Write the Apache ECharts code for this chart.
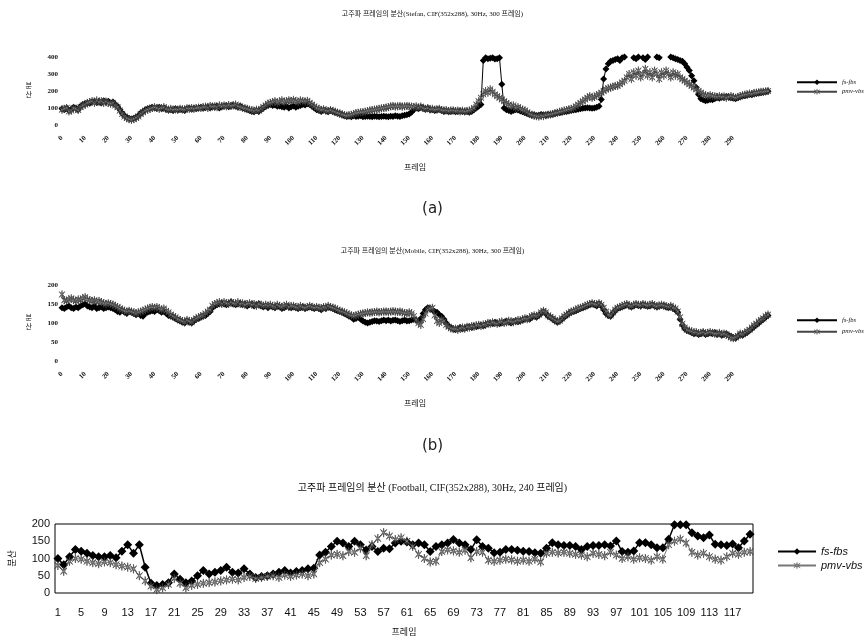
<!DOCTYPE html>
<html><head><meta charset="utf-8">
<script src="https://cdn.jsdelivr.net/npm/echarts@6/dist/echarts.min.js"></script>
<style>html,body{margin:0;padding:0;background:#fff}#c{width:865px;height:641px}</style>
</head><body><div id="c"></div>
<script>
// ---- data ----
const framesAB = Array.from({length: 306}, (_, i) => String(i));
const aFs = [95,90,100,85,92,105,98,90,110,120, 125,130,128,135,140,132,138,130,142,135, 140,130,135,120,110,90,70,55,45,38, 35,40,45,55,70,80,90,95,100,105, 100,98,105,95,100,92,88,90,85,95, 88,92,90,85,95,100,92,98,95,100, 105,98,102,108,100,110,105,112,100,108, 110,115,108,112,118,110,105,112,100,95, 92,85,80,78,85,80,90,100,110,115, 120,115,118,110,112,108,105,110,100,108, 112,105,110,115,120,118,125,120,110,100, 90,85,80,88,82,78,85,80,75,70, 65,60,55,50,52,48,55,50,52,55, 48,50,52,50,48,52,50,48,50,52, 50,48,52,50,55,52,50,55,58,60, 65,75,90,100,95,105,100,92,98,90, 90,85,88,92,85,80,82,78,80,82, 78,80,82,80,78,80,75,80,90,100, 110,120,380,395,390,392,395,388,390,395, 240,100,90,85,80,85,90,88,82,78, 72,68,62,58,60,55,58,62,60,58, 62,60,65,68,70,72,75,78,80,82, 85,88,90,92,95,98,100,102,100,98, 100,105,110,150,270,330,360,375,380,385, 390,380,395,400,410,420,405,395,390,400, 410,395,385,400,415,420,410,400,395,405, 410,420,415,400,395,390,385,380,375,360, 340,320,290,260,220,180,155,148,142,145, 150,148,155,160,158,165,162,168,165,160, 158,155,160,165,170,172,175,180,178,182, 185,188,190,192,195,198];
const aPmv = [90,95,100,80,85,100,95,88,105,115, 120,130,135,140,130,145,135,140,130,138, 130,125,130,115,105,85,65,50,40,35, 30,35,42,50,65,75,85,90,95,100, 105,100,95,100,105,95,90,95,90,92, 90,95,92,90,98,95,100,95,100,102, 100,105,108,100,112,108,110,105,115,110, 115,110,118,112,115,120,110,108,102,98, 95,90,88,82,90,85,95,105,115,125, 130,135,140,130,138,145,135,140,145,140, 148,140,135,145,140,138,142,130,120,110, 100,95,88,92,85,82,88,82,78,72, 68,62,58,55,58,60,65,70,72,75, 75,78,82,85,88,90,92,95,98,100, 102,105,110,112,108,110,112,108,110,112, 110,108,105,110,100,108,100,95,100,92, 95,90,92,95,88,85,88,82,85,86, 82,85,80,84,80,82,85,90,100,120, 140,160,180,200,190,210,195,180,170,160, 150,140,130,120,110,115,100,105,95,90, 85,75,65,60,55,52,50,55,52,58, 60,62,65,70,72,78,80,85,88,92, 95,100,110,120,130,140,150,160,170,160, 165,175,180,190,200,210,215,220,225,230, 230,240,250,260,280,300,270,310,290,320, 280,300,330,290,310,280,320,300,270,310, 290,320,300,280,310,290,300,280,270,260, 250,240,230,220,210,200,190,180,175,170, 175,170,168,165,170,165,168,160,165,170, 165,160,165,170,175,178,180,185,182,188, 190,192,195,195,198,200];
const bFs = [140,138,142,145,140,138,142,140,145,148, 150,145,142,140,145,138,140,142,138,140, 142,140,138,135,130,128,132,128,125,130, 128,125,122,125,120,118,125,128,130,132, 130,135,132,128,130,125,120,118,115,112, 108,105,102,100,105,102,100,105,110,112, 115,118,120,125,130,140,145,148,150,152, 150,148,152,155,150,148,150,152,148,150, 145,148,150,145,148,150,145,142,145,140, 145,142,140,145,142,138,140,145,142,140, 142,140,138,140,142,138,140,142,140,138, 140,138,135,140,138,142,140,138,135,132, 130,128,125,122,118,115,110,112,115,110, 105,102,100,102,104,106,105,104,106,108, 106,108,105,107,108,106,104,106,108,105, 106,108,110,108,105,112,125,135,140,138, 135,130,128,122,118,110,100,92,88,85, 82,85,88,84,86,88,90,88,92,90, 92,95,92,96,98,100,98,102,100,98, 100,102,105,102,100,104,106,103,105,108, 110,112,110,115,118,115,120,125,130,125, 118,115,110,105,102,105,110,115,120,125, 128,130,132,135,138,140,142,145,148,150, 148,145,150,145,135,125,120,118,125,132, 138,140,142,145,148,145,142,145,148,146, 145,148,146,144,145,148,145,142,144,146, 145,142,140,143,138,135,128,110,95,85, 80,78,75,72,74,70,72,75,70,72, 74,72,75,70,72,68,70,72,68,65, 62,60,65,70,68,72,75,80,85,90, 95,100,105,110,115,120];
const bPmv = [175,160,158,162,165,160,158,162,160,165, 168,162,160,158,160,155,158,155,152,150, 152,150,148,145,142,138,135,132,130,132, 130,128,125,128,130,132,135,138,140,142, 140,142,138,135,138,132,128,122,118,115, 110,108,105,102,108,105,102,108,112,115, 118,120,125,130,135,145,150,152,155,150, 155,152,150,155,152,150,155,150,152,148, 150,152,148,150,145,150,148,145,148,145, 148,145,142,148,145,142,145,148,142,145, 145,142,140,145,142,140,142,145,142,140, 142,140,138,142,140,145,142,140,138,135, 132,130,128,125,122,120,118,120,122,124, 125,126,128,127,128,129,130,128,129,130, 130,129,130,131,130,129,130,128,126,125, 128,125,118,108,100,95,110,125,135,138, 140,120,105,100,110,105,95,90,86,84, 85,82,86,88,85,90,88,92,90,94, 95,92,96,95,100,98,102,100,98,102, 104,100,102,106,104,102,105,108,106,110, 112,110,114,118,120,118,122,128,132,128, 120,116,112,108,104,106,112,118,122,126, 130,132,135,138,140,142,145,148,150,152, 150,148,152,148,140,130,122,120,128,135, 140,142,145,148,150,146,144,148,150,148, 146,150,148,146,148,150,146,144,146,148, 146,144,142,145,140,138,130,115,98,88, 82,80,78,75,76,72,74,76,72,74, 76,74,72,72,74,70,72,70,66,62, 60,62,66,72,70,74,78,82,88,94, 98,104,108,112,118,122];
const framesC = Array.from({length: 120}, (_, i) => String(i + 1));
const cFs = [100,82,105,126,121,115,109,105,105,109, 102,121,140,115,140,75,28,22,25,30, 55,40,30,35,50,65,55,60,65,75, 60,58,70,55,45,48,50,55,60,65, 58,62,65,70,72,110,118,135,150,145, 135,150,140,125,135,120,130,128,145,150, 148,140,145,140,120,135,140,145,155,145, 140,126,154,135,130,117,118,126,126,124, 121,120,117,115,130,146,140,138,138,135, 126,135,138,138,140,136,151,120,118,122, 146,146,140,131,131,156,198,198,198,175, 165,160,168,141,140,138,142,131,151,170];
const cPmv = [80,63,92,100,98,92,88,85,90,88, 82,78,75,70,50,35,20,10,15,25, 42,28,15,22,25,28,30,32,35,38, 40,38,45,48,42,45,48,50,45,52, 48,52,55,50,55,88,98,110,112,108, 120,118,130,108,140,158,175,165,155,160, 150,135,112,100,90,92,120,125,122,118, 124,102,120,118,95,92,95,98,96,92, 95,92,98,90,115,118,116,118,115,112, 110,105,115,112,108,118,110,100,105,98, 102,100,95,105,98,140,150,156,145,118, 110,115,105,98,95,105,115,112,118,120];
const seriesNames = ['fs-fbs', 'pmv-vbs'];
const titles = [
  '고주파 프레임의 분산(Stefan, CIF(352x288), 30Hz, 300 프레임)',
  '고주파 프레임의 분산(Mobile, CIF(352x288), 30Hz, 300 프레임)',
  '고주파 프레임의 분산 (Football, CIF(352x288), 30Hz, 240 프레임)'
];

// ---- styles ----
function asteriskPath() {
  const arms = [-135, -90, -45, 45, 90, 135];
  const pts = [];
  for (let k = 0; k < arms.length; k++) {
    const a = arms[k], b = arms[(k + 1) % arms.length] + (k === arms.length - 1 ? 360 : 0);
    pts.push([Math.cos(a * Math.PI / 180), Math.sin(a * Math.PI / 180)]);
    const m = (a + b) / 2;
    pts.push([0.2 * Math.cos(m * Math.PI / 180), 0.2 * Math.sin(m * Math.PI / 180)]);
  }
  return 'path://' + pts.map((p, i) => (i ? 'L' : 'M') + (p[0] * 50 + 50).toFixed(2) + ' ' + (p[1] * 50 + 50).toFixed(2)).join(' ') + ' Z';
}
const AST = asteriskPath();
const serif = "'Liberation Serif', 'Noto Sans CJK KR', serif";
const sans = "'Liberation Sans', Arial, 'Noto Sans CJK KR', sans-serif";

const chart = echarts.init(document.getElementById('c'), null, {renderer: 'canvas'});
const small = {fontFamily: serif, fontSize: 7, color: '#111'};

function abX(idx) {
  return {
    type: 'category', gridIndex: idx, data: framesAB, boundaryGap: false,
    axisLine: {show: false}, axisTick: {show: false}, splitLine: {show: false},
    axisLabel: {interval: (i) => i % 10 === 0 && i <= 290, rotate: 45, margin: 12, ...small, fontWeight: 'bold'},
    name: '프레임', nameLocation: 'middle', nameGap: 39, nameTextStyle: {...small, fontSize: 8}
  };
}
function abY(idx, max, interval) {
  return {
    type: 'value', gridIndex: idx, min: 0, max: max, interval: interval,
    axisLine: {show: false}, axisTick: {show: false}, splitLine: {show: false},
    axisLabel: {margin: 4, ...small, fontWeight: 'bold'},
    name: '분\n산', nameLocation: 'middle', nameGap: 30, nameRotate: 0,
    nameTextStyle: {...small, fontSize: 7, lineHeight: 9}
  };
}
function fsSeries(name, xi, data, size, lw) {
  return {type: 'line', name: name, xAxisIndex: xi, yAxisIndex: xi, data: data,
    symbol: 'diamond', symbolSize: size, showAllSymbol: true,
    itemStyle: {color: '#000'}, lineStyle: {color: '#000', width: lw}, z: 2};
}
function pmvSeries(name, xi, data, size, lw, lineColor) {
  return {type: 'line', name: name, xAxisIndex: xi, yAxisIndex: xi, data: data,
    symbol: AST, symbolSize: size, symbolKeepAspect: true, showAllSymbol: true,
    itemStyle: {color: '#a8a8a8', borderColor: '#333', borderWidth: 0.6},
    lineStyle: {color: lineColor, width: lw}, z: 3};
}
const fmt = (n) => n.split('#')[0];

chart.setOption({
  animation: false,
  backgroundColor: '#fff',
  title: [
    {text: titles[0], left: 'center', top: 6, textStyle: {...small, fontWeight: 'normal', fontSize: 7}},
    {text: titles[1], left: 'center', top: 243, textStyle: {...small, fontWeight: 'normal', fontSize: 7}},
    {text: titles[2], left: 'center', top: 478, textStyle: {fontFamily: serif, fontSize: 10, fontWeight: 'normal', color: '#111'}}
  ],
  graphic: [
    {type: 'text', left: 'center', top: 202, style: {text: '(a)', font: "15px 'DejaVu Sans', sans-serif", fill: '#222'}},
    {type: 'text', left: 'center', top: 439, style: {text: '(b)', font: "15px 'DejaVu Sans', sans-serif", fill: '#222'}}
  ],
  legend: [
    {data: [seriesNames[0] + '#a', seriesNames[1] + '#a'], formatter: fmt, orient: 'vertical', left: 791, top: 74,
      itemWidth: 40, itemHeight: 7, itemGap: 3, itemStyle: {borderWidth: 0.4},
      textStyle: {fontFamily: serif, fontSize: 6.5, fontStyle: 'italic', color: '#111'}},
    {data: [seriesNames[0] + '#b', seriesNames[1] + '#b'], formatter: fmt, orient: 'vertical', left: 791, top: 312,
      itemWidth: 40, itemHeight: 7, itemGap: 5, itemStyle: {borderWidth: 0.4},
      textStyle: {fontFamily: serif, fontSize: 6.5, fontStyle: 'italic', color: '#111'}},
    {data: [seriesNames[0] + '#c', seriesNames[1] + '#c'], formatter: fmt, orient: 'vertical', left: 772, top: 541,
      itemWidth: 38, itemHeight: 8, itemGap: 3, itemStyle: {borderWidth: 0.4},
      textStyle: {fontFamily: sans, fontSize: 11, fontStyle: 'italic', color: '#111'}}
  ],
  grid: [
    {left: 62, top: 57, width: 706, height: 68},
    {left: 62, top: 285, width: 706, height: 76},
    {left: 55, top: 524, width: 698, height: 69, show: true, borderColor: '#000', borderWidth: 1, backgroundColor: 'transparent'}
  ],
  xAxis: [
    abX(0), abX(1),
    {type: 'category', gridIndex: 2, data: framesC, boundaryGap: true,
      axisLine: {show: false}, axisTick: {show: false}, splitLine: {show: false},
      axisLabel: {interval: 3, margin: 14, fontFamily: sans, fontSize: 11, color: '#111'},
      name: '프레임', nameLocation: 'middle', nameGap: 35, nameTextStyle: {fontFamily: serif, fontSize: 9, color: '#111'}}
  ],
  yAxis: [
    abY(0, 400, 100), abY(1, 200, 50),
    {type: 'value', gridIndex: 2, min: 0, max: 200, interval: 50,
      axisLine: {show: false}, axisTick: {show: false}, splitLine: {show: false},
      axisLabel: {margin: 5, fontFamily: sans, fontSize: 11, color: '#111'},
      name: '분산', nameLocation: 'middle', nameGap: 38, nameRotate: 90,
      nameTextStyle: {fontFamily: serif, fontSize: 9, color: '#111'}}
  ],
  series: [
    fsSeries(seriesNames[0] + '#a', 0, aFs, 7, 1),
    pmvSeries(seriesNames[1] + '#a', 0, aPmv, 8, 1, '#444'),
    fsSeries(seriesNames[0] + '#b', 1, bFs, 7, 1),
    pmvSeries(seriesNames[1] + '#b', 1, bPmv, 8, 1, '#444'),
    fsSeries(seriesNames[0] + '#c', 2, cFs, 9, 1.5),
    pmvSeries(seriesNames[1] + '#c', 2, cPmv, 9, 1, '#777')
  ]
});
</script></body></html>
